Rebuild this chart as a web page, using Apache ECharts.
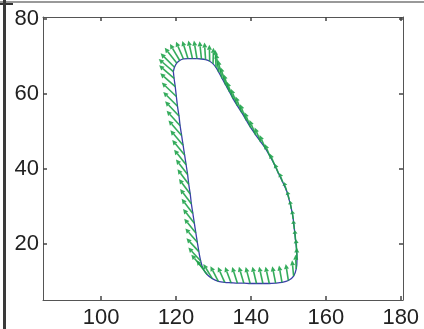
<!DOCTYPE html>
<html><head><meta charset="utf-8">
<script src="https://cdn.jsdelivr.net/npm/echarts@6/dist/echarts.min.js"></script>
<style>html,body{margin:0;padding:0;background:#fff}#c{width:424px;height:329px}</style>
</head><body><div id="c"></div>
<script>
const xTicks = [100, 120, 140, 160, 180];
const yTicks = [20, 40, 60, 80];
const contourX = [119.3,119.6,120.2,121.0,122.0,123.2,124.4,125.6,126.8,127.9,129.0,129.9,130.7,131.4,132.3,133.3,134.3,135.3,136.4,137.6,138.8,140.0,141.3,142.6,143.9,145.1,146.3,147.4,148.5,149.5,150.2,150.8,151.3,151.6,151.9,152.2,152.3,152.1,151.4,150.0,148.3,146.6,144.9,143.2,141.5,139.8,138.1,136.4,134.7,133.0,131.3,129.7,128.3,127.2,126.6,126.1,125.7,125.3,124.9,124.5,124.1,123.8,123.4,123.1,122.7,122.3,121.9,121.5,121.1,120.8,120.4,120.1,119.8,119.5];
const contourY = [66.0,67.2,68.3,69.0,69.4,69.5,69.5,69.5,69.4,69.2,68.8,68.1,67.1,65.9,64.2,62.4,60.6,58.7,56.9,55.0,53.0,51.0,49.1,47.3,45.5,43.4,41.2,38.8,36.5,34.3,31.9,29.4,26.7,24.0,21.2,18.5,15.8,13.4,11.5,10.3,9.8,9.6,9.5,9.5,9.5,9.5,9.6,9.6,9.7,9.8,10.1,10.8,11.9,13.5,15.5,18.0,20.5,23.0,25.6,28.2,30.8,33.4,36.0,38.6,41.2,43.8,46.4,49.0,51.6,54.2,56.8,59.4,62.0,64.2];
const arrowU = [-3.9,-3.7,-3.2,-2.6,-2.0,-1.5,-1.1,-0.8,-0.5,-0.3,-0.1,0.1,-0.2,-0.7,-1.1,-1.4,-1.6,-1.7,-1.7,-1.7,-1.7,-1.7,-1.7,-1.6,-1.6,-1.4,-1.3,-1.1,-0.9,-0.7,-0.5,-0.4,-0.3,-0.3,-0.2,-0.2,-0.1,-0.2,-0.4,-0.7,-0.8,-0.9,-1.0,-1.0,-1.1,-1.2,-1.3,-1.4,-1.6,-1.8,-2.1,-2.4,-2.8,-3.1,-3.3,-3.3,-3.2,-3.1,-3.0,-3.0,-3.0,-3.0,-3.0,-3.1,-3.2,-3.3,-3.4,-3.5,-3.6,-3.7,-3.8,-3.9,-4.0,-4.0];
const arrowV = [3.4,3.7,4.1,4.4,4.6,4.7,4.8,4.8,4.7,4.6,4.4,4.3,4.7,5.0,4.9,4.8,4.7,4.6,4.5,4.4,4.3,4.2,4.0,3.8,3.6,3.3,3.0,2.7,2.5,2.3,2.2,2.2,2.3,2.4,2.6,2.9,3.3,3.8,4.2,4.4,4.5,4.5,4.5,4.5,4.5,4.4,4.4,4.3,4.2,4.1,4.0,3.9,3.8,3.7,3.6,3.6,3.7,3.8,3.8,3.9,3.9,4.0,4.0,4.0,4.0,4.0,4.0,4.0,4.0,3.9,3.8,3.7,3.6,3.5];

const contourData = contourX.map((x, i) => [x, contourY[i]]);
contourData.push([contourX[0], contourY[0]]);
const arrowData = contourX.map((x, i) => [x, contourY[i], arrowU[i], arrowV[i]]);

const GREEN = '#1fa34a';
const chart = echarts.init(document.getElementById('c'), null, {renderer: 'canvas'});
const labelFont = {fontFamily: 'Liberation Sans, Arial, sans-serif', fontSize: 22, color: '#222'};
const axisLine = {show: true, lineStyle: {color: '#555', width: 1}};
const tick = (vals) => ({show: true, inside: true, length: 4, customValues: vals, lineStyle: {color: '#444', width: 1.5}});
chart.setOption({
  animation: false,
  grid: {left: 43, right: 21, top: 17, bottom: 28, show: false},
  xAxis: [
    {type: 'value', min: 84.5, max: 180.6, axisLine: axisLine, splitLine: {show: false},
     axisTick: tick(xTicks), axisLabel: Object.assign({customValues: xTicks, margin: 7, showMinLabel: true, showMaxLabel: true}, labelFont)},
    {type: 'value', position: 'top', min: 84.5, max: 180.6, axisLine: axisLine, splitLine: {show: false},
     axisTick: tick(xTicks), axisLabel: {show: false}}
  ],
  yAxis: [
    {type: 'value', min: 5.1, max: 80.6, axisLine: axisLine, splitLine: {show: false},
     axisTick: tick(yTicks), axisLabel: Object.assign({customValues: yTicks, margin: 4}, labelFont)},
    {type: 'value', position: 'right', min: 5.1, max: 80.6, axisLine: axisLine, splitLine: {show: false},
     axisTick: tick(yTicks), axisLabel: {show: false}}
  ],
  series: [
    {type: 'line', data: contourData, showSymbol: false, smooth: 0.3,
     lineStyle: {color: '#3b3fa8', width: 1.3}, z: 2},
    {type: 'custom', data: arrowData, z: 3,
     renderItem: function (params, api) {
       const x = api.value(0), y = api.value(1), u = api.value(2), v = api.value(3);
       const p0 = api.coord([x, y]);
       const p1 = api.coord([x + u, y + v]);
       const dx = p1[0] - p0[0], dy = p1[1] - p0[1];
       const len = Math.sqrt(dx * dx + dy * dy) || 1;
       const ux = dx / len, uy = dy / len;
       const hl = Math.min(5, len * 0.4), hw = 2.5;
       const bx = p1[0] - ux * hl, by = p1[1] - uy * hl;
       return {type: 'group', children: [
         {type: 'line', shape: {x1: p0[0], y1: p0[1], x2: bx, y2: by}, style: {stroke: GREEN, lineWidth: 1.6, opacity: 0.9}},
         {type: 'polygon', shape: {points: [[p1[0], p1[1]], [bx - uy * hw, by + ux * hw], [bx + uy * hw, by - ux * hw]]}, style: {fill: GREEN, opacity: 0.9}}
       ]};
     }}
  ],
  graphic: [
    {type: 'line', shape: {x1: 0, y1: 2, x2: 424, y2: 2}, style: {stroke: '#999', lineWidth: 2}},
    {type: 'line', shape: {x1: 0, y1: 4, x2: 13, y2: 4}, style: {stroke: '#333', lineWidth: 2}},
    {type: 'line', shape: {x1: 4.5, y1: 0, x2: 4.5, y2: 329}, style: {stroke: '#3a3a3a', lineWidth: 3}}
  ]
});
</script></body></html>
